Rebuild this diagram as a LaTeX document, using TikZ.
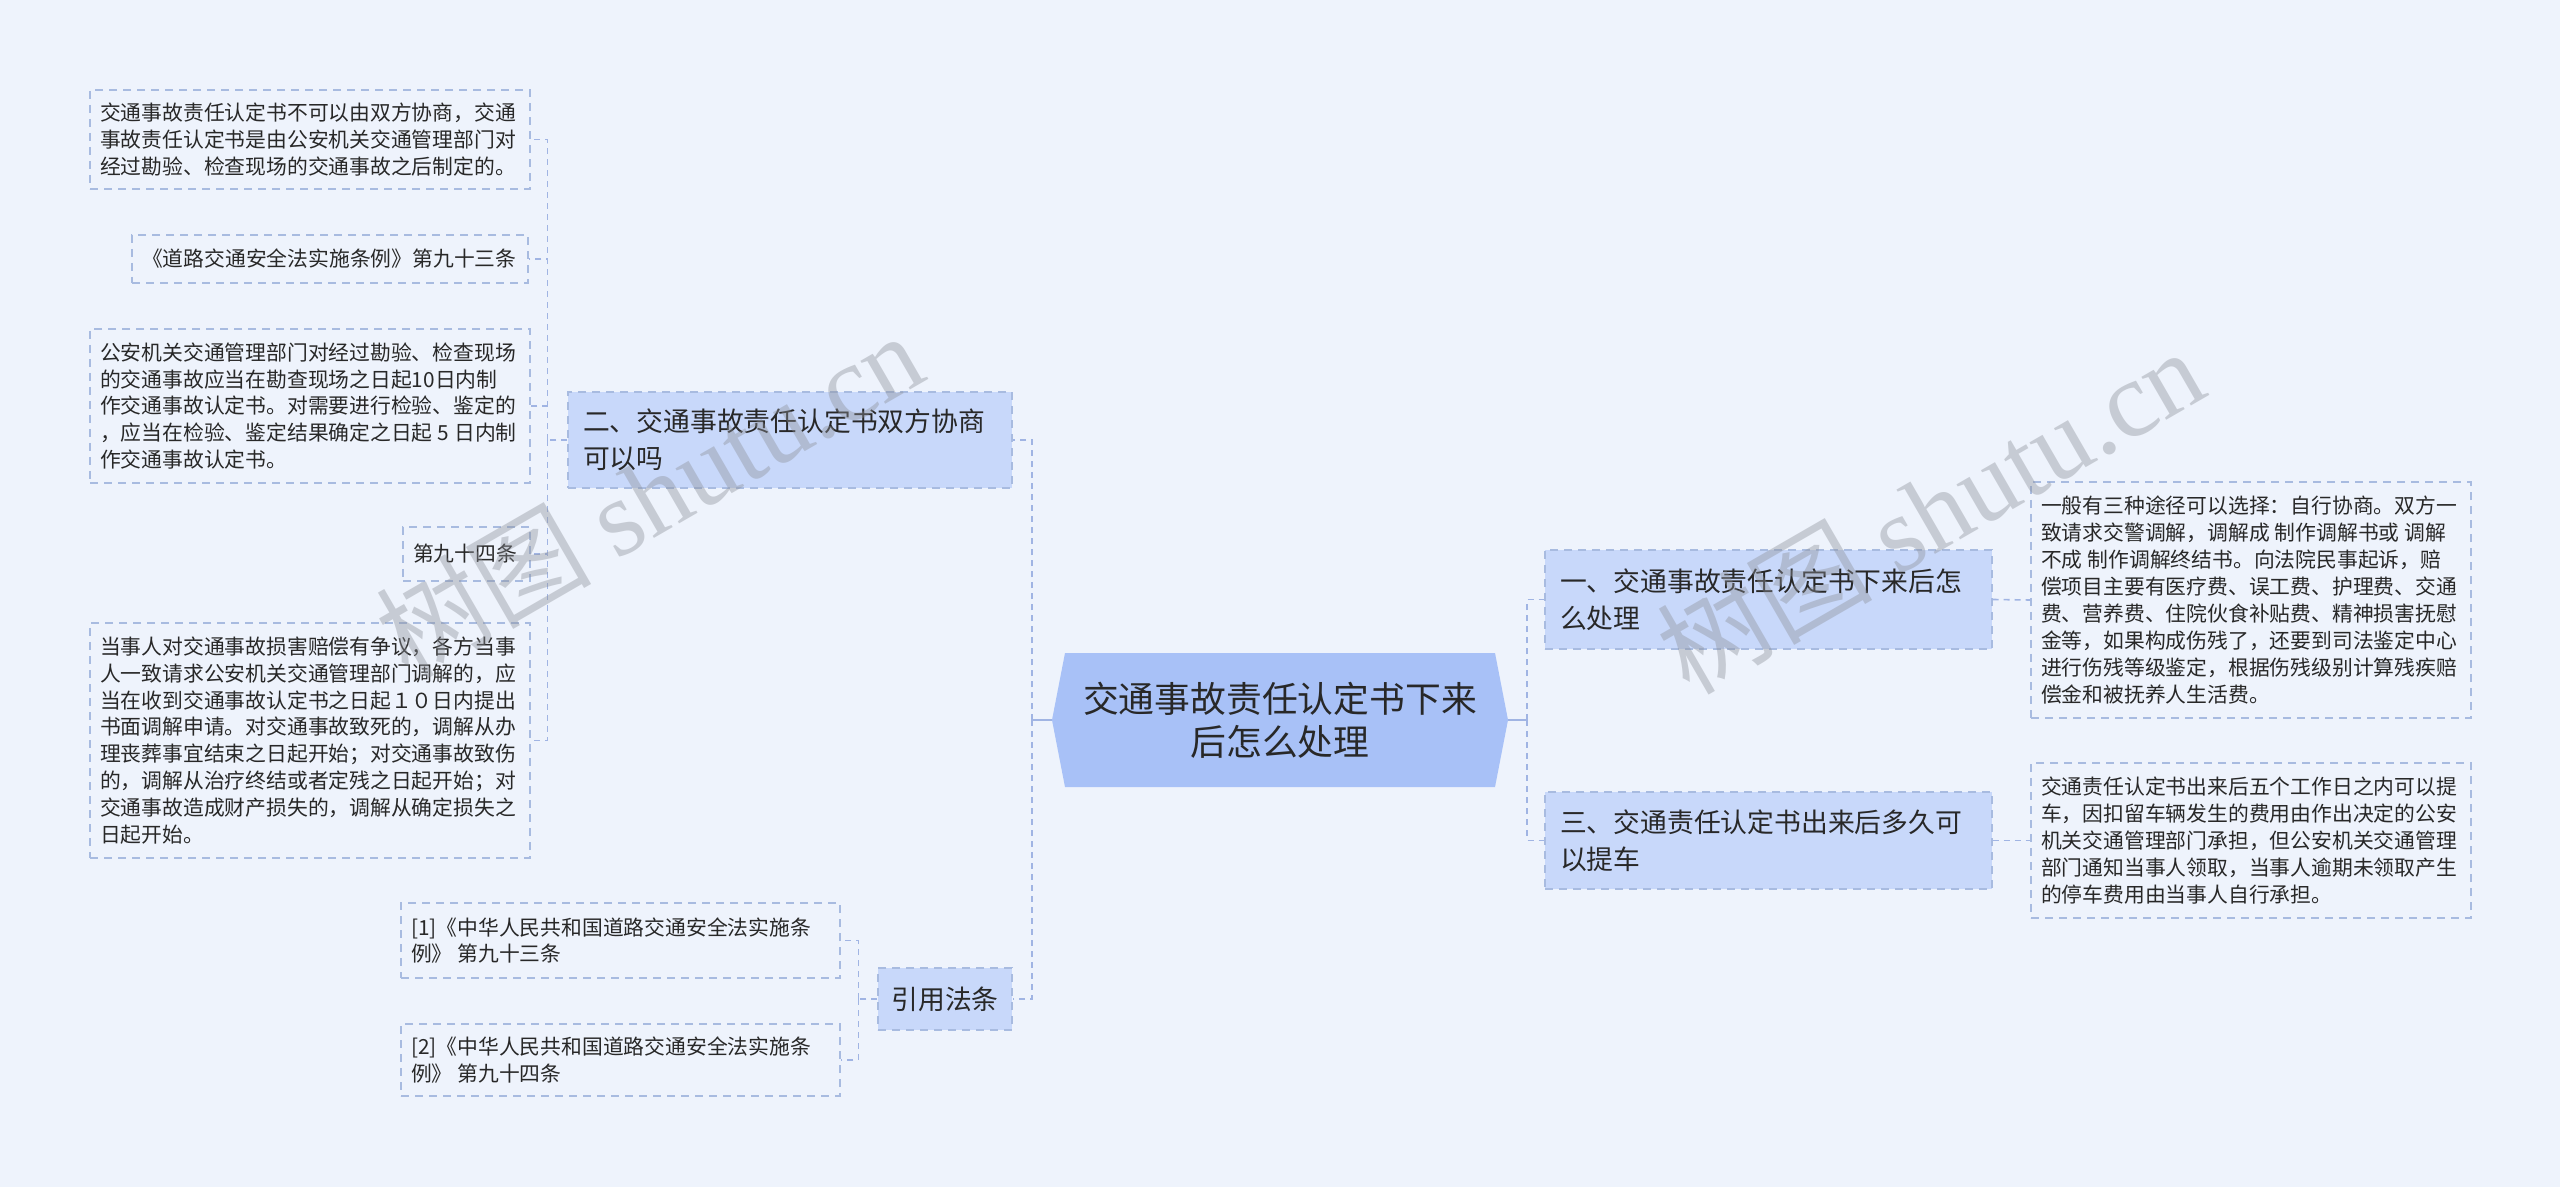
\documentclass[tikz,border=0pt]{standalone}
\usepackage{fontspec}
\setmainfont{Noto Sans CJK SC}
\newfontfamily\wmlatin{Liberation Serif}
\usetikzlibrary{calc}
\definecolor{bgc}{RGB}{238,243,252}
\definecolor{mainfill}{RGB}{200,216,250}
\definecolor{cfill}{RGB}{168,193,247}
\definecolor{connc}{RGB}{160,180,227}
\definecolor{leafborder}{RGB}{168,187,224}
\definecolor{txt}{RGB}{40,40,40}
\definecolor{wmc}{RGB}{140,144,152}
\newcommand{\nsp}{\kern2.5pt\relax}
\tikzset{
  leaf/.style={draw=leafborder, line width=0.7pt, dash pattern=on 4pt off 3pt, fill=bgc,
    inner xsep=5pt, inner ysep=3pt, align=left, text=txt,
    font=\fontsize{10.4}{13.45}\selectfont},
  mainnode/.style={draw=leafborder, line width=0.7pt, dash pattern=on 4pt off 3pt, fill=mainfill,
    inner xsep=7.5pt, inner ysep=3pt, align=left, text=txt, text width=208.5pt,
    font=\fontsize{13.4}{18.3}\selectfont},
  conn/.style={draw=connc, line width=0.8pt, dash pattern=on 3pt off 2.5pt},
  solidconn/.style={draw=connc, line width=1.2pt},
  wm/.style={text=wmc, opacity=0.4, rotate=30, font=\fontsize{54}{54}\selectfont}
}
\begin{document}
\begin{tikzpicture}[x=0.5pt,y=-0.5pt]
\useasboundingbox (0,0) rectangle (2560,1187);
\fill[bgc] (0,0) rectangle (2560,1187);

% center hexagon
\coordinate (hxL) at (1052,720);
\coordinate (hxR) at (1508,720);
\fill[cfill] (1065,653) -- (1495,653) -- (hxR) -- (1495,787) -- (1065,787) -- (hxL) -- cycle;
\node[align=center, text=txt, font=\fontsize{17.9}{21.5}\selectfont] (c) at (1280,720) {交通事故责任认定书下来\\后怎么处理};

% trunks
\coordinate (tL) at (1032,720);
\coordinate (tR) at (1527,720);

% main nodes
\node[mainnode, minimum height=49.5pt] (n1) at (1768.5,599.5) {一、交通事故责任认定书下来后怎\\么处理};
\node[mainnode, minimum height=48.5pt] (n3) at (1768.5,840.5) {三、交通责任认定书出来后多久可\\以提车};
\node[mainnode, text width=207pt, minimum height=48pt] (n2) at (790,440) {二、交通事故责任认定书双方协商\\可以吗};
\node[mainnode, text width=, align=center, inner xsep=0pt, minimum width=67pt, minimum height=31pt] (ny) at (945,999) {引用法条};

% right leaves
\node[leaf, text width=210pt, minimum height=118pt] (r1) at (2251,600) {一般有三种途径可以选择：自行协商。双方一\\致请求交警调解，调解成\nsp 制作调解书或\nsp 调解\\不成\nsp 制作调解终结书。向法院民事起诉，赔\\偿项目主要有医疗费、误工费、护理费、交通\\费、营养费、住院伙食补贴费、精神损害抚慰\\金等，如果构成伤残了，还要到司法鉴定中心\\进行伤残等级鉴定，根据伤残级别计算残疾赔\\偿金和被抚养人生活费。};
\node[leaf, text width=210pt, minimum height=77.5pt] (r2) at (2251,840.5) {交通责任认定书出来后五个工作日之内可以提\\车，因扣留车辆发生的费用由作出决定的公安\\机关交通管理部门承担，但公安机关交通管理\\部门通知当事人领取，当事人逾期未领取产生\\的停车费用由当事人自行承担。};

% left leaves (children of n2)
\node[leaf, text width=210pt, minimum height=49.5pt] (la) at (310,139.5) {交通事故责任认定书不可以由双方协商，交通\\事故责任认定书是由公安机关交通管理部门对\\经过勘验、检查现场的交通事故之后制定的。};
\node[leaf, text width=188pt, minimum height=24pt] (lb) at (330,259) {《道路交通安全法实施条例》第九十三条};
\node[leaf, text width=210pt, minimum height=77pt] (lc) at (310,406) {公安机关交通管理部门对经过勘验、检查现场\\的交通事故应当在勘查现场之日起10日内制\\作交通事故认定书。对需要进行检验、鉴定的\\，应当在检验、鉴定结果确定之日起\nsp 5\nsp 日内制\\作交通事故认定书。};
\node[leaf, text width=53.5pt, minimum height=27pt] (ld) at (466.5,554) {第九十四条};
\node[leaf, text width=210pt, minimum height=117.5pt] (le) at (310,740.5) {当事人对交通事故损害赔偿有争议，各方当事\\人一致请求公安机关交通管理部门调解的，应\\当在收到交通事故认定书之日起１０日内提出\\书面调解申请。对交通事故致死的，调解从办\\理丧葬事宜结束之日起开始；对交通事故致伤\\的，调解从治疗终结或者定残之日起开始；对\\交通事故造成财产损失的，调解从确定损失之\\日起开始。};

% leaves of 引用法条
\node[leaf, text width=209.5pt, minimum height=37.5pt] (lf) at (620.5,940.5) {[1]《中华人民共和国道路交通安全法实施条\\例》\nsp 第九十三条};
\node[leaf, text width=209.5pt, minimum height=36pt] (lg) at (620.5,1060) {[2]《中华人民共和国道路交通安全法实施条\\例》\nsp 第九十四条};

% connectors: center
\draw[solidconn] (hxR) -- (tR);
\draw[solidconn] (hxL) -- (tL);
\draw[conn] (tR) |- (n1.west);
\draw[conn] (tR) |- (n3.west);
\draw[conn] (tL) |- (n2.east);
\draw[conn] (tL) |- (ny.east);

% right
\draw[conn] (n1.east) -- (r1.west);
\draw[conn] (n3.east) -- (r2.west);

% n2 children
\draw[conn] (n2.west) -- ++(-20,0) coordinate (t2);
\draw[conn] (t2) |- (la.east);
\draw[conn] (t2) |- (lb.east);
\draw[conn] (t2) |- (lc.east);
\draw[conn] (t2) |- (ld.east);
\draw[conn] (t2) |- (le.east);

% 引用法条 children
\draw[conn] (ny.west) -- ++(-19,0) coordinate (ty);
\draw[conn] (ty) |- (lf.east);
\draw[conn] (ty) |- (lg.east);

% watermarks
\node[wm] (wm1) at (649,494) {树图 {\wmlatin shutu.cn}};
\node[wm] (wm2) at (1930,510) {树图 {\wmlatin shutu.cn}};
\end{tikzpicture}
\end{document}
